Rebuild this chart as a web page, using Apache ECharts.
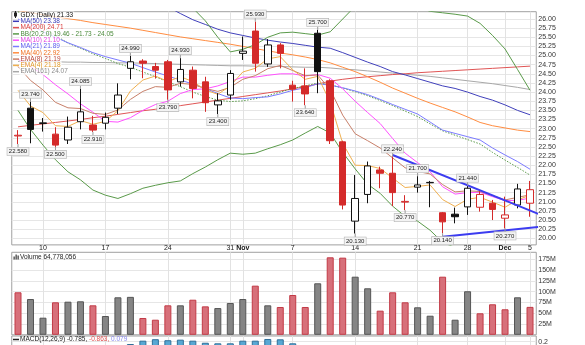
<!DOCTYPE html>
<html><head><meta charset="utf-8">
<script src="https://cdn.jsdelivr.net/npm/echarts@6/dist/echarts.min.js"></script>
<style>html,body{margin:0;padding:0;background:#fff}#c{width:585px;height:345px}</style>
</head><body><div id="c"></div>
<script>
// ---------------- data ----------------
const dates = ['2013-10-08','2013-10-09','2013-10-10','2013-10-11','2013-10-14','2013-10-15','2013-10-16','2013-10-17','2013-10-18','2013-10-21','2013-10-22','2013-10-23','2013-10-24','2013-10-25','2013-10-28','2013-10-29','2013-10-30','2013-10-31','2013-11-01','2013-11-04','2013-11-05','2013-11-06','2013-11-07','2013-11-08','2013-11-11','2013-11-12','2013-11-13','2013-11-14','2013-11-15','2013-11-18','2013-11-19','2013-11-20','2013-11-21','2013-11-22','2013-11-25','2013-11-26','2013-11-27','2013-11-29','2013-12-02','2013-12-03','2013-12-04','2013-12-05'];
const opens  = [22.80,23.56,23.14,22.85,22.69,23.19,23.10,23.15,23.56,24.65,24.85,24.70,24.83,24.28,24.60,24.28,23.65,23.92,25.06,25.67,24.77,25.29,24.19,24.17,25.61,24.31,22.64,20.47,21.20,21.87,21.78,20.99,21.40,21.52,20.70,20.66,20.86,20.85,20.96,20.55,20.91,20.96];
const closes = [22.82,22.98,23.16,22.55,23.04,23.46,22.96,23.31,23.92,24.83,24.79,24.60,24.06,24.62,24.10,23.71,23.76,24.51,25.12,24.79,25.29,25.06,24.08,23.95,24.56,22.67,20.91,21.09,21.98,21.78,21.25,21.01,21.46,21.53,20.45,20.59,21.37,21.20,20.79,20.64,21.35,21.33];
const lows   = [22.58,22.60,22.92,22.50,22.58,22.98,22.91,22.98,23.40,24.35,24.38,24.37,23.79,24.15,23.83,23.46,23.40,23.79,24.88,24.56,24.69,24.65,23.74,23.64,23.97,22.58,20.79,20.13,20.96,21.37,20.88,20.77,21.25,20.85,20.14,20.41,20.64,20.73,20.50,20.27,20.82,20.59];
const highs  = [22.96,23.74,23.29,23.04,23.33,24.085,23.35,23.44,24.24,24.99,24.90,24.80,24.88,24.93,24.70,24.42,23.97,24.60,25.52,25.93,25.45,25.34,24.31,24.65,25.70,24.35,22.67,21.73,22.10,21.96,22.24,21.18,21.70,21.57,20.72,20.84,21.44,21.30,21.05,21.14,21.49,21.57];
const priorClose = 22.95;
const volumesM = [98.6,83.0,39.7,75.4,76.8,77.7,68.4,43.6,87.0,88.0,39.0,35.0,68.4,68.4,81.4,66.0,62.0,73.8,83.0,114.0,68.4,64.5,92.3,64.5,119.5,179.8,179.0,134.8,107.9,56.0,98.6,75.4,63.8,44.3,134.8,35.0,101.0,49.9,70.8,59.2,87.0,64.78];

const ma50   = [27.90,27.78,27.65,27.52,27.39,27.26,27.13,27.00,26.87,26.74,26.61,26.48,26.33,26.15,25.98,25.85,25.72,25.62,25.55,25.48,25.42,25.37,25.33,25.28,25.23,25.20,25.08,24.95,24.82,24.70,24.56,24.47,24.37,24.27,24.17,24.10,24.00,23.88,23.78,23.65,23.50,23.38];
const ma200  = [23.05,23.09,23.13,23.17,23.21,23.25,23.30,23.34,23.39,23.44,23.49,23.53,23.58,23.63,23.68,23.73,23.78,23.83,23.88,23.93,23.98,24.03,24.09,24.15,24.22,24.30,24.35,24.39,24.42,24.45,24.48,24.50,24.53,24.55,24.57,24.59,24.61,24.63,24.65,24.67,24.69,24.71];
const bbUpper= [28.90,29.00,29.00,28.95,28.86,28.80,28.78,28.66,28.47,28.14,27.73,27.39,27.04,26.73,26.30,25.95,25.50,25.10,25.17,25.30,25.50,25.62,25.64,25.60,25.56,25.65,26.00,26.35,26.50,26.55,26.55,26.45,26.32,26.21,26.17,26.13,26.08,25.88,25.55,25.18,24.62,24.05];
const bbMid  = [26.20,26.00,25.78,25.55,25.34,25.20,25.05,24.92,24.78,24.68,24.55,24.42,24.28,24.15,24.00,23.88,23.78,23.74,23.76,23.82,23.90,24.00,24.10,24.17,24.25,24.20,24.11,24.01,23.90,23.77,23.63,23.48,23.33,23.13,22.94,22.82,22.70,22.58,22.35,22.14,21.94,21.73];
const bbLower= [23.50,22.98,22.55,22.15,21.82,21.60,21.32,21.18,21.09,21.22,21.37,21.45,21.52,21.57,21.77,21.95,22.15,22.33,22.30,22.33,22.45,22.56,22.69,22.88,23.06,22.88,22.35,21.90,21.48,21.23,20.88,20.60,20.47,20.22,19.89,19.75,19.70,19.62,19.55,19.50,19.47,19.46];
const ma10   = [24.90,24.70,24.48,24.20,23.95,23.68,23.45,23.20,23.18,23.30,23.50,23.66,23.75,23.96,24.07,24.09,24.17,24.29,24.41,24.41,24.46,24.50,24.50,24.44,24.48,24.38,24.09,23.75,23.44,23.14,22.73,22.33,22.07,21.82,21.41,21.21,21.25,21.26,21.14,21.03,21.04,21.10];
const ma21   = [26.00,25.85,25.65,25.50,25.35,25.22,25.08,24.97,24.88,24.79,24.67,24.55,24.44,24.33,24.22,24.10,23.96,23.84,23.82,23.85,23.87,23.95,24.05,24.12,24.23,24.19,24.12,24.03,23.93,23.80,23.66,23.53,23.40,23.18,22.96,22.87,22.78,22.69,22.47,22.28,22.10,21.89];
const ma40   = [26.23,26.17,26.12,26.06,26.01,25.96,25.90,25.85,25.80,25.75,25.69,25.63,25.57,25.51,25.46,25.41,25.36,25.31,25.25,25.19,25.13,25.07,25.02,24.96,24.89,24.80,24.68,24.56,24.42,24.27,24.11,23.97,23.83,23.70,23.58,23.46,23.32,23.17,23.08,23.02,22.96,22.92];
const ema8   = [24.70,24.32,24.06,23.72,23.57,23.55,23.42,23.39,23.51,23.80,24.02,24.15,24.13,24.24,24.21,24.10,24.02,24.13,24.35,24.45,24.64,24.73,24.59,24.45,24.47,24.07,23.37,22.86,22.67,22.47,22.20,21.93,21.83,21.76,21.47,21.27,21.30,21.28,21.17,21.05,21.12,21.19];
const ema4   = [24.05,23.62,23.44,23.08,23.06,23.22,23.12,23.20,23.49,24.03,24.33,24.44,24.29,24.42,24.29,24.06,23.94,24.17,24.55,24.65,24.91,24.97,24.61,24.35,24.43,23.73,22.60,22.00,21.99,21.91,21.65,21.39,21.42,21.46,21.06,20.87,21.07,21.12,20.99,20.85,21.05,21.18];
const ema161 = [24.84,24.84,24.83,24.83,24.82,24.82,24.81,24.81,24.80,24.80,24.79,24.78,24.77,24.76,24.75,24.74,24.73,24.72,24.72,24.71,24.71,24.70,24.69,24.68,24.68,24.66,24.63,24.61,24.58,24.55,24.52,24.49,24.46,24.43,24.39,24.35,24.31,24.27,24.23,24.18,24.13,24.07];
const macdHist = [-0.02,0.02,0.05,0.06,0.08,0.10,0.11,0.13,0.15,0.18,0.209,0.222,0.213,0.218,0.209,0.191,0.186,0.186,0.209,0.209,0.224,0.221,0.186,0.16,0.15,0.05,-0.15,-0.25,-0.25,-0.22,-0.20,-0.17,-0.12,-0.08,-0.07,-0.04,0.00,0.03,0.04,0.05,0.07,0.079];

// trend lines: [category position, price]
const trendUpper = [[30, 22.28], [41.87, 20.64]];
const trendLower = [[34, 20.04], [41.87, 20.32]];

// high / low annotations
const labelIdx  = [0,1,3,5,6,9,12,13,16,19,23,24,27,30,31,32,34,36,39];
const labelSide = ['L','H','L','H','L','H','L','H','L','H','L','H','L','H','L','H','L','H','L'];

// axis ticks
const tickDates = ['2013-10-10','2013-10-17','2013-10-24','2013-10-31','2013-11-01','2013-11-07','2013-11-14','2013-11-21','2013-11-27','2013-12-03','2013-12-05'];
const tickTexts = ['10','17','24','31','Nov','7','14','21','28','Dec','5'];
const priceTicks = [20.00,20.25,20.50,20.75,21.00,21.25,21.50,21.75,22.00,22.25,22.50,22.75,23.00,23.25,23.50,23.75,24.00,24.25,24.50,24.75,25.00,25.25,25.50,25.75,26.00];
const volTicks = [25,50,75,100,125,150,175];
const macdTicks = [0.2,0,-0.2,-0.4,-0.6];

// ---------------- chart ----------------
const RED = '#d42a2a', BLACK = '#111';
const tickIdx = tickDates.map(d => dates.indexOf(d));
const FONT = 'Liberation Sans';

const candleData = opens.map((o, i) => {
  const c = closes[i], prev = i ? closes[i - 1] : priorClose;
  const edge = c < prev ? RED : BLACK;
  const fill = c > o ? '#ffffff' : edge;
  return { value: [o, c, lows[i], highs[i]], itemStyle: { color: fill, color0: fill, borderColor: edge, borderColor0: edge, borderWidth: 1 } };
});
const volData = volumesM.map((v, i) => {
  const prev = i ? closes[i - 1] : priorClose;
  const red = closes[i] < prev;
  return { value: v, itemStyle: { color: red ? '#d7707a' : '#858585', borderColor: red ? '#c23a46' : '#555', borderWidth: 1 } };
});

function lineSeries(name, data, color, extra) {
  return Object.assign({
    name, type: 'line', data, xAxisIndex: 0, yAxisIndex: 0, symbol: 'none', silent: true, z: 3,
    lineStyle: { width: 1, color }, itemStyle: { color }
  }, extra || {});
}

const L = 11.76, W = 524.5;
const gridBase = { left: L, width: W, show: true, borderColor: '#a0a0a0', borderWidth: 1, backgroundColor: 'rgba(0,0,0,0)', outerBoundsMode: 'none', containLabel: false };

function valueX(grid, extra) {
  return Object.assign({
    type: 'value', gridIndex: grid, min: -0.5, max: 41.5,
    axisLine: { show: false }, axisTick: { show: false, customValues: tickIdx },
    axisLabel: { show: false, customValues: tickIdx },
    splitLine: { show: true, lineStyle: { color: '#e2e2e2', width: 1 } }
  }, extra || {});
}
function catX(grid) {
  return { type: 'category', gridIndex: grid, data: dates, show: true,
    axisLine: { show: false }, axisTick: { show: false }, axisLabel: { show: false }, splitLine: { show: false } };
}

const legendRows = [
  ['MA(50) 23.38', '#3a3ab8', '#3a3ab8'],
  ['MA(200) 24.71', '#d93a3a', '#e05050'],
  ['BB(20,2.0) 19.46 - 21.73 - 24.05', '#4b8a3b', '#5a9a4a'],
  ['MA(10) 21.10', '#e040e0', '#ff50ff'],
  ['MA(21) 21.89', '#5a5aee', '#7b7bff'],
  ['MA(40) 22.92', '#f07020', '#ff8c40'],
  ['EMA(8) 21.19', '#b8463a', '#c8806a'],
  ['EMA(4) 21.18', '#e09a28', '#f0b050'],
  ['EMA(161) 24.07', '#8a8a8a', '#a8a8a8']
];
const gEls = [];
const rowY0 = 15, rowStep = 6.3;
gEls.push({ type: 'rect', shape: { x: 14, y: rowY0 - 2.5, width: 3, height: 4 }, style: { fill: '#222' }, z: 101 });
gEls.push({ type: 'line', shape: { x1: 15.5, y1: rowY0 - 4, x2: 15.5, y2: rowY0 + 3 }, style: { stroke: '#222', lineWidth: 1 }, z: 101 });
gEls.push({ type: 'text', x: 19.5, y: rowY0, z: 100, style: { text: 'GDX (Daily) 21.33', fill: '#111', font: '6.5px "' + FONT + '"', verticalAlign: 'middle', backgroundColor: 'rgba(255,255,255,0.75)', padding: [0, 1] } });
legendRows.forEach((r, k) => {
  const y = rowY0 + rowStep * (k + 1);
  gEls.push({ type: 'line', shape: { x1: 13, y1: y, x2: 19, y2: y }, style: { stroke: r[2], lineWidth: 1.5 }, z: 101 });
  gEls.push({ type: 'text', x: 19.5, y, z: 100, style: { text: r[0], fill: r[1], font: '6.5px "' + FONT + '"', verticalAlign: 'middle', backgroundColor: 'rgba(255,255,255,0.75)', padding: [0, 1] } });
});
// volume legend
[[13.5, 3], [15.5, 5], [17.5, 4]].forEach(b => gEls.push({ type: 'rect', shape: { x: b[0], y: 259.5 - b[1], width: 1.3, height: b[1] }, style: { fill: '#444' }, z: 101 }));
gEls.push({ type: 'text', x: 20, y: 257.5, z: 100, style: { text: 'Volume 64,778,056', fill: '#222', font: '6.5px "' + FONT + '"', verticalAlign: 'middle' } });
// macd legend
gEls.push({ type: 'line', shape: { x1: 13, y1: 339.5, x2: 19, y2: 339.5 }, style: { stroke: '#222', lineWidth: 1.5 }, z: 101 });
gEls.push({ type: 'text', x: 20, y: 339.5, z: 100, style: {
  text: '{k|MACD(12,26,9) -0.785,} {r|-0.863,} {b|0.079}', font: '6.5px "' + FONT + '"', verticalAlign: 'middle',
  rich: { k: { fill: '#222', font: '6.5px "' + FONT + '"' }, r: { fill: '#e05050', font: '6.5px "' + FONT + '"' }, b: { fill: '#8a8af0', font: '6.5px "' + FONT + '"' } } } });

const chart = echarts.init(document.getElementById('c'), null, { renderer: 'canvas' });
chart.setOption({
  animation: false,
  backgroundColor: '#ffffff',
  textStyle: { fontFamily: FONT },
  grid: [
    Object.assign({ top: 11.69, height: 233.2 }, gridBase),
    Object.assign({ top: 252.3, height: 82.5 }, gridBase),
    Object.assign({ top: 336, height: 120 }, gridBase)
  ],
  xAxis: [
    catX(0),
    valueX(0),
    catX(1),
    valueX(1, { position: 'top', axisLabel: { show: true, customValues: tickIdx, margin: 1, fontSize: 7, color: '#222', fontFamily: FONT,
      formatter: v => { const t = tickTexts[tickIdx.indexOf(Math.round(v))] || ''; return (t === 'Nov' || t === 'Dec') ? '{b|' + t + '}' : t; },
      rich: { b: { fontWeight: 'bold', fontSize: 7, color: '#111', fontFamily: FONT } } } }),
    catX(2),
    valueX(2)
  ],
  yAxis: [
    { type: 'value', gridIndex: 0, position: 'right', min: 19.82, max: 26.2,
      axisLine: { show: false }, axisTick: { show: false, customValues: priceTicks },
      axisLabel: { customValues: priceTicks, margin: 2, fontSize: 7, color: '#333', fontFamily: FONT, formatter: v => v.toFixed(2) },
      splitLine: { show: true, lineStyle: { color: '#e6e6e6' } } },
    { type: 'value', gridIndex: 1, position: 'right', min: 0, max: 191.4,
      axisLine: { show: false }, axisTick: { show: false, customValues: volTicks },
      axisLabel: { customValues: volTicks, margin: 2, fontSize: 7, color: '#333', fontFamily: FONT, formatter: v => v + 'M' },
      splitLine: { show: true, lineStyle: { color: '#e6e6e6' } } },
    { type: 'value', gridIndex: 2, position: 'right', min: -0.8, max: 0.25,
      axisLine: { show: false }, axisTick: { show: false, customValues: macdTicks },
      axisLabel: { customValues: macdTicks, margin: 2, fontSize: 7, color: '#333', fontFamily: FONT, formatter: v => v.toFixed(1) },
      splitLine: { show: true, lineStyle: { color: '#e6e6e6' } } }
  ],
  series: [
    lineSeries('EMA161', ema161, '#a8a8a8'),
    lineSeries('MA200', ma200, '#e05555'),
    lineSeries('MA50', ma50, '#4040bb'),
    lineSeries('MA40', ma40, '#ff8c40'),
    lineSeries('BBU', bbUpper, '#5a9a4a'),
    lineSeries('BBL', bbLower, '#5a9a4a'),
    lineSeries('BBM', bbMid, '#5a9a4a', { lineStyle: { width: 1, color: '#5a9a4a', type: [1.5, 1.5] } }),
    lineSeries('MA21', ma21, '#7b7bff'),
    lineSeries('MA10', ma10, '#ff50ff'),
    lineSeries('EMA8', ema8, '#c8806a'),
    lineSeries('EMA4', ema4, '#f0b050'),
    { type: 'candlestick', xAxisIndex: 0, yAxisIndex: 0, data: candleData, barWidth: 7, z: 5, silent: true },
    { type: 'line', xAxisIndex: 1, yAxisIndex: 0, data: trendUpper, symbol: 'none', clip: false, z: 6, silent: true, lineStyle: { width: 2, color: '#3c3cf0' } },
    { type: 'line', xAxisIndex: 1, yAxisIndex: 0, data: trendLower, symbol: 'none', clip: false, z: 6, silent: true, lineStyle: { width: 2, color: '#3c3cf0' } },
    { type: 'custom', xAxisIndex: 0, yAxisIndex: 0, z: 8, silent: true,
      data: labelIdx.map((idx, k) => [idx, labelSide[k] === 'H' ? highs[idx] : lows[idx], labelSide[k] === 'H' ? -1 : 1]),
      renderItem: (params, api) => {
        const p = api.coord([api.value(0), api.value(1)]);
        const s = api.value(2);
        const cy = p[1] + s * 7.5;
        return { type: 'group', children: [
          { type: 'line', shape: { x1: p[0], y1: p[1], x2: p[0], y2: cy - s * 4 }, style: { stroke: '#999', lineWidth: 1 } },
          { type: 'text', x: p[0], y: cy, style: { text: api.value(1).toFixed(3), fill: '#222', font: '6px "' + FONT + '"', align: 'center', verticalAlign: 'middle',
            backgroundColor: '#f3f3f3', borderColor: '#b5b5b5', borderWidth: 0.6, padding: [1, 1.5, 0.5, 1.5] } }
        ] };
      } },
    { type: 'bar', xAxisIndex: 2, yAxisIndex: 1, data: volData, barWidth: 7, silent: true },
    { type: 'bar', xAxisIndex: 4, yAxisIndex: 2, data: macdHist, barWidth: 7, silent: true, itemStyle: { color: '#58a8d4', borderColor: '#2f6f99', borderWidth: 1 } }
  ],
  graphic: { elements: gEls }
});
</script></body></html>
